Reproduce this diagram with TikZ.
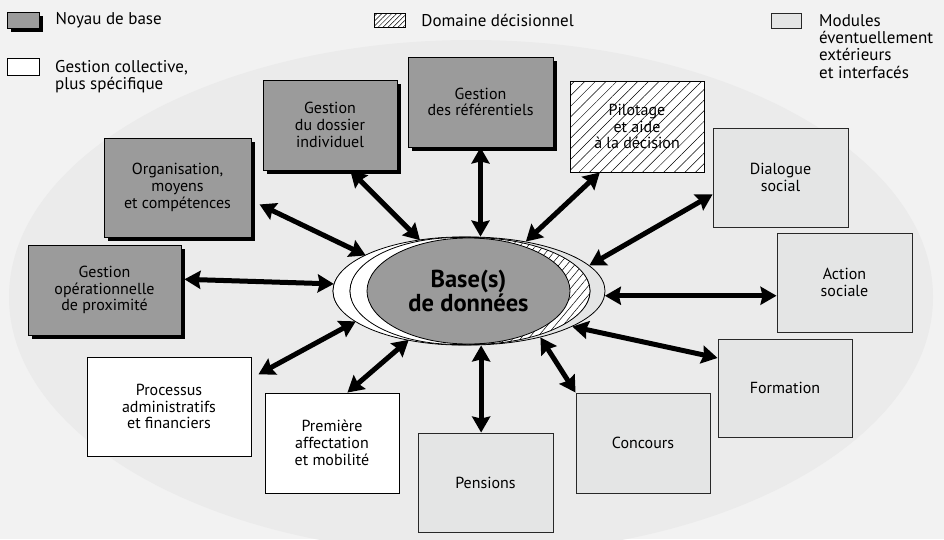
\documentclass[tikz,border=0pt]{standalone}
\usepackage{fontspec}
\setmainfont{PT Sans}
\usetikzlibrary{positioning, arrows.meta, shapes.geometric, patterns.meta, shadows}
\definecolor{fondpage}{RGB}{242,242,242}
\definecolor{fondcercle}{RGB}{235,235,235}
\definecolor{grisnoyau}{RGB}{155,155,155}
\definecolor{grismodule}{RGB}{228,229,229}
\definecolor{traitgris}{RGB}{40,40,40}

\begin{document}
\begin{tikzpicture}[x=1pt, y=-1pt,
    boite/.style={draw=black, line width=0.9pt, inner sep=2pt, align=center,
      font=\fontsize{16}{16.7}\selectfont},
    taille/.style 2 args={minimum width=#1pt, minimum height=#2pt},
    noyau/.style={boite, fill=grisnoyau,
      drop shadow={shadow xshift=4pt, shadow yshift=-4pt, fill=black, opacity=1}},
    collectif/.style={boite, fill=white},
    module/.style={boite, fill=grismodule, draw=traitgris},
    decision/.style={boite, preaction={fill=white},
      pattern={Lines[angle=45, distance=7.5pt, line width=0.5pt]}},
    liaison/.style={line width=5pt,
      {Stealth[length=16pt, width=18pt, inset=2pt]}-{Stealth[length=16pt, width=18pt, inset=2pt]}},
    legende/.style={inner sep=0pt, align=left, font=\fontsize{17}{17.3}\selectfont},
    couche/.style={draw=black, line width=0.8pt}]
  % fond
  \fill[fondpage] (0,0) rectangle (944,539);
  \useasboundingbox (0,0) rectangle (944,539);
  \begin{scope}
    \clip (0,0) rectangle (944,539);
    \fill[fondcercle] (471,297) ellipse [x radius=462pt, y radius=257pt];
  \end{scope}

  % legende
  \node[noyau, taille={32}{16}] (legnoyau) at (23,20) {};
  \node[legende, right=16pt of legnoyau] (txtnoyau) {Noyau de base};
  \node[decision, taille={31}{14},
    pattern={Lines[angle=45, distance=3.5pt, line width=0.5pt]}] (legdecision) at (389.5,20) {};
  \node[legende, right=16pt of legdecision] (txtdecision) {Domaine décisionnel};
  \node[module, taille={30}{15}] (legmodule) at (786,20.5) {};
  \node[legende, anchor=north west] (txtmodule) at (819,14)
    {Modules\\éventuellement\\extérieurs\\et interfacés};
  \node[collectif, taille={32}{17}] (legcollectif) at (23,66.5) {};
  \node[legende, anchor=north west] (txtcollectif) at (55,60)
    {Gestion collective,\\plus spécifique};

  % base de donnees
  \node[ellipse, couche, fill=grismodule, inner sep=0pt, taille={272}{108}] (base) at (469,291) {};
  \draw[couche, fill=white] (461.5,291) ellipse [x radius=128.5pt, y radius=54pt];
  \draw[couche, preaction={fill=white},
    pattern={Lines[angle=50, distance=6pt, line width=0.5pt]}]
    (470,291) ellipse [x radius=120pt, y radius=53.5pt];
  \draw[couche, fill=white] (458,291) ellipse [x radius=108pt, y radius=53.5pt];
  \node[ellipse, couche, fill=grisnoyau, inner sep=0pt, taille={203}{106}, align=center,
    font=\bfseries\fontsize{24.5}{22.5}\selectfont] (bdd) at (468.5,291) {Base(s)\\de données};

  % noyau de base
  \node[noyau, taille={145}{90}] (referentiels) at (480.5,102) {Gestion\\des référentiels};
  \node[noyau, taille={134}{90}] (dossier) at (330,125) {Gestion\\du dossier\\individuel};
  \node[noyau, taille={147}{99}] (organisation) at (177.5,187.5) {Organisation,\\moyens\\et compétences};
  \node[noyau, taille={153}{90}] (proximite) at (104.5,290) {Gestion\\opérationnelle\\de proximité};
  % gestion collective
  \node[collectif, taille={164}{99}] (processus) at (169,406.5) {Processus\\administratifs\\et financiers};
  \node[collectif, taille={134}{100}] (affectation) at (332,443) {Première\\affectation\\et mobilité};
  % modules exterieurs
  \node[module, taille={135}{99}] (pensions) at (485.5,482.5) {Pensions};
  \node[module, taille={134}{100}] (concours) at (643,443) {Concours};
  \node[module, taille={134}{98}] (formation) at (785,388) {Formation};
  \node[module, taille={135}{99}] (action) at (844.5,282.5) {Action\\sociale};
  \node[module, taille={135}{99}] (dialogue) at (780.5,177.5) {Dialogue\\social};
  % decisionnel
  \node[decision, taille={134}{91}] (pilotage) at (637,126.5) {Pilotage\\et aide\\à la décision};

  % liaisons
  \draw[liaison] (referentiels.south) -- (referentiels.south |- base.north);
  \draw[liaison] (dossier.294) -- (base.134);
  \draw[liaison, shorten <=9pt] (organisation.-10) -- (base.161);
  \draw[liaison, shorten <=3pt] (proximite.8.6) -- (base.177.5);
  \draw[liaison, shorten <=8pt] (processus.19.3) -- (base.195.7);
  \draw[liaison] (affectation.73.3) -- (base.219);
  \draw[liaison] (pensions.95) -- (pensions.95 |- base.south);
  \draw[liaison] (concours.north west) -- (base.327);
  \draw[liaison] (formation.156.5) -- (base.341);
  \draw[liaison] (base.358) -- (base.358 -| action.west);
  \draw[liaison] (dialogue.194) -- (base.12);
  \draw[liaison] (pilotage.231.6) -- (base.41.5);
\end{tikzpicture}
\end{document}
